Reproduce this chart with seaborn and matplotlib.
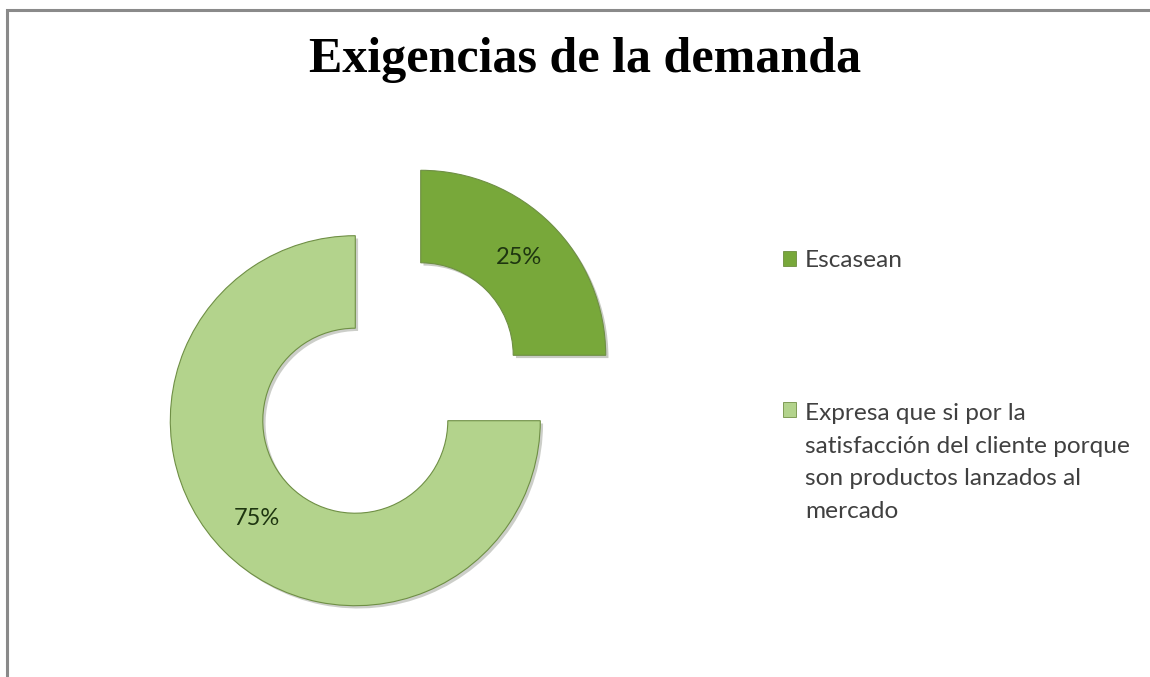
import matplotlib
matplotlib.use("Agg")
import matplotlib.pyplot as plt
import matplotlib.patheffects as pe
from matplotlib.patches import Patch, Rectangle
from matplotlib.legend_handler import HandlerPatch
import seaborn as sns

# Data
categories = ["Escasean",
              "Expresa que si por la\nsatisfacción del cliente porque\nson productos lanzados al\nmercado"]
shares = [25, 75]
slice_colors = ["#78a83a", "#b3d38c"]
title_text = "Exigencias de la demanda"


class TopAlignedPatch(HandlerPatch):
    """Legend square raised so it sits beside the first line of a wrapped label."""

    def __init__(self, shift=0.0, **kw):
        super().__init__(**kw)
        self.shift = shift

    def create_artists(self, legend, orig_handle, xdescent, ydescent,
                       width, height, fontsize, trans):
        p = Rectangle((-xdescent, -ydescent + self.shift), width, height)
        self.update_prop(p, orig_handle, legend)
        p.set_transform(trans)
        return [p]


sns.set_theme(style="white")
plt.rcParams["font.family"] = ["Lato", "DejaVu Sans"]

W, H = 1150, 677
fig = plt.figure(figsize=(W / 100, H / 100), dpi=100)
fig.patch.set_facecolor("white")

# Grey frame along the top and left edges
fig.patches.append(Rectangle((7 / W, -0.1), 1.2, (1 - 10 / H) + 0.1,
                             transform=fig.transFigure, fill=False,
                             edgecolor="#8a8a8a", linewidth=2.2))

# Square axes: one data unit = 185 px, donut centred at (388, 388) px
half = 1.4
side = 2 * half * 185
cx, cy = 388, H - 388
ax = fig.add_axes([(cx - side / 2) / W, (cy - side / 2) / H, side / W, side / H])

wedges, _, autotexts = ax.pie(
    shares,
    colors=slice_colors,
    startangle=90,
    counterclock=False,
    explode=[0.25, 0.25],
    radius=1.0,
    autopct="%d%%",
    pctdistance=0.75,
    wedgeprops=dict(width=0.5, edgecolor="#6f8f45", linewidth=0.8),
    textprops=dict(color="#1e3510", fontsize=17),
)
ax.set_xlim(-half, half)
ax.set_ylim(-half, half)
ax.set_aspect("equal")
ax.axis("off")
for w in wedges:
    w.set_path_effects([pe.SimplePatchShadow(offset=(2, -2), alpha=0.25),
                        pe.Normal()])

fig.text(585 / W, 1 - 60 / H, title_text, ha="center", va="center",
         fontsize=36, fontweight="bold", family=["Liberation Serif", "DejaVu Serif"],
         color="black")

handles = [Patch(facecolor=c, edgecolor="#5d7f2a", linewidth=0.5) for c in slice_colors]
leg = fig.legend(handles, categories, loc="upper left",
                 bbox_to_anchor=(783 / W, 1 - 250 / H), frameon=False,
                 fontsize=17.6, handlelength=0.55, handleheight=0.55,
                 handletextpad=0.35, labelspacing=5.4, borderpad=0,
                 borderaxespad=0,
                 handler_map={handles[0]: TopAlignedPatch(0.0),
                              handles[1]: TopAlignedPatch(38.0)})
for t in leg.get_texts():
    t.set_color("#404040")
    t.set_linespacing(1.68)

fig.savefig("out.png", dpi=100, facecolor="white")
